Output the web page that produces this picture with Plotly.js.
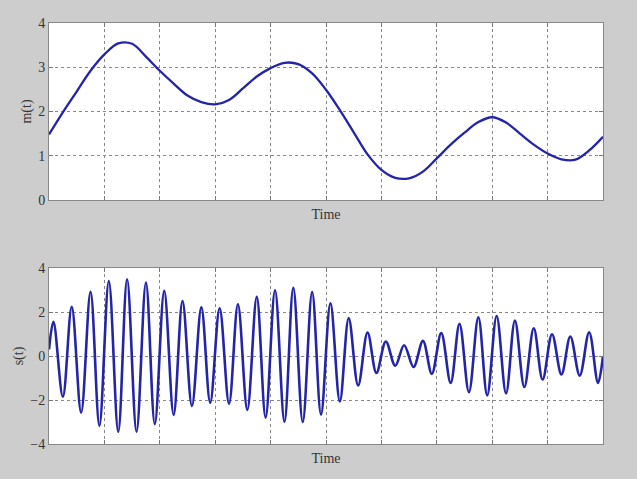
<!DOCTYPE html>
<html>
<head>
<meta charset="utf-8">
<script src="https://cdn.plot.ly/plotly-3.0.1.min.js"></script>
<style>
html,body{margin:0;padding:0;background:#cdcdcd;}
#chart{width:637px;height:479px;}
</style>
</head>
<body>
<div id="chart"></div>
<script>
// m(t): sampled points (time in grid units 0..10)
var tM = [0, 0.25, 0.5, 0.75, 1.0, 1.25, 1.5, 1.75, 2.0, 2.25, 2.5, 2.75, 3.0, 3.25, 3.5, 3.75, 4.0, 4.25, 4.5, 4.75, 5.0, 5.25, 5.5, 5.75, 6.0, 6.25, 6.5, 6.75, 7.0, 7.25, 7.5, 7.75, 8.0, 8.25, 8.5, 8.75, 9.0, 9.25, 9.5, 9.75, 10];
var mVals = [1.48, 1.98, 2.45, 2.92, 3.29, 3.54, 3.53, 3.24, 2.92, 2.63, 2.36, 2.21, 2.16, 2.26, 2.52, 2.79, 2.98, 3.10, 3.07, 2.86, 2.49, 2.03, 1.53, 1.03, 0.68, 0.50, 0.49, 0.64, 0.94, 1.25, 1.52, 1.76, 1.87, 1.75, 1.50, 1.25, 1.05, 0.92, 0.91, 1.12, 1.43];

// s(t): start, alternating peak/trough extrema, end
var tS = [0,
  0.08, 0.25, 0.41, 0.58, 0.75, 0.91, 1.08, 1.25, 1.41, 1.58,
  1.75, 1.91, 2.08, 2.25, 2.41, 2.58, 2.75, 2.91, 3.08, 3.25,
  3.41, 3.58, 3.75, 3.91, 4.08, 4.25, 4.41, 4.58, 4.75, 4.91,
  5.08, 5.25, 5.41, 5.58, 5.75, 5.91, 6.08, 6.25, 6.41, 6.58,
  6.75, 6.91, 7.08, 7.25, 7.41, 7.58, 7.75, 7.91, 8.08, 8.25,
  8.41, 8.58, 8.75, 8.91, 9.08, 9.25, 9.41, 9.58, 9.75, 9.91,
  10];
var sVals = [0.3,
  1.56, -1.85, 2.24, -2.57, 2.92, -3.17, 3.41, -3.44, 3.49, -3.44,
  3.34, -3.10, 2.96, -2.68, 2.50, -2.27, 2.21, -2.12, 2.17, -2.17,
  2.35, -2.45, 2.69, -2.80, 2.99, -2.99, 3.10, -3.00, 2.91, -2.66,
  2.40, -2.07, 1.72, -1.34, 1.07, -0.77, 0.66, -0.44, 0.49, -0.50,
  0.69, -0.81, 1.04, -1.22, 1.46, -1.64, 1.76, -1.79, 1.82, -1.70,
  1.61, -1.41, 1.26, -1.07, 0.99, -0.84, 0.89, -0.89, 1.08, -1.22,
  0.0];

var mTicks = [0, 1, 2, 3, 4];
var sTicks = [-4, -2, 0, 2, 4];

var lineColor = '#2424a8';
var serif = 'Liberation Serif, Times New Roman, serif';

function xAxis(anchor) {
  return {
    anchor: anchor, range: [0, 10], dtick: 1, tick0: 0,
    showticklabels: false, ticks: 'inside', ticklen: 4, tickcolor: '#777',
    showline: true, linecolor: '#888', linewidth: 1, mirror: 'ticks',
    showgrid: true, gridcolor: '#888', griddash: 'dot', gridwidth: 1,
    zeroline: false,
    title: {text: 'Time', font: {family: serif, size: 14, color: '#333'}, standoff: 9}
  };
}
function yAxis(anchor, domain, range, ticks, title) {
  return {
    anchor: anchor, domain: domain, range: range, tickvals: ticks,
    ticks: 'inside', ticklen: 4, tickcolor: '#777',
    showline: true, linecolor: '#888', linewidth: 1, mirror: 'ticks',
    showgrid: true, gridcolor: '#888', griddash: 'dot', gridwidth: 1,
    zeroline: false,
    tickfont: {family: serif, size: 14, color: '#333'},
    title: {text: title, font: {family: serif, size: 14, color: '#333'}, standoff: 3}
  };
}

var data = [
  {x: tM, y: mVals, type: 'scatter', mode: 'lines', xaxis: 'x', yaxis: 'y',
   line: {color: lineColor, width: 2.3, shape: 'spline', smoothing: 1}, hoverinfo: 'skip'},
  {x: tS, y: sVals, type: 'scatter', mode: 'lines', xaxis: 'x2', yaxis: 'y2',
   line: {color: lineColor, width: 2.6, shape: 'spline', smoothing: 1}, hoverinfo: 'skip'}
];

var layout = {
  width: 637, height: 479,
  paper_bgcolor: '#cdcdcd', plot_bgcolor: '#ffffff',
  margin: {l: 49, r: 34, t: 23, b: 35},
  showlegend: false,
  xaxis: xAxis('y'),
  yaxis: yAxis('x', [0.5796, 1], [0, 4], mTicks, 'm(t)'),
  xaxis2: xAxis('y2'),
  yaxis2: yAxis('x2', [0, 0.418], [-4, 4], sTicks, 's(t)')
};

Plotly.newPlot('chart', data, layout, {displayModeBar: false, staticPlot: true});
</script>
</body>
</html>
